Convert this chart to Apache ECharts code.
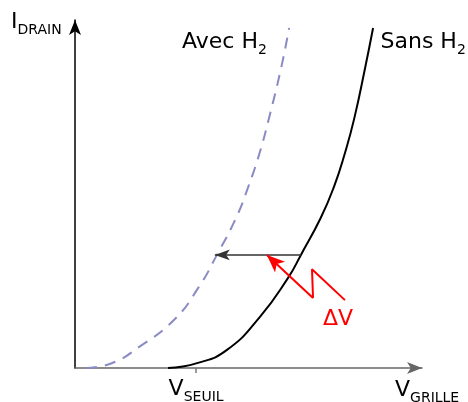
<!DOCTYPE html>
<html><head><meta charset="utf-8">
<script src="https://cdn.jsdelivr.net/npm/echarts@6/dist/echarts.min.js"></script>
<style>html,body{margin:0;padding:0;background:#fff}#c{width:468px;height:402px}</style>
</head><body><div id="c"></div>
<script>
// Transfer curves (arbitrary units)
const sansH2X = [2.68, 3.52, 4.38, 5.33, 6.14, 6.51, 7.08, 7.46, 7.78, 8.05, 8.36, 8.59];
const sansH2Y = [0, 0.14, 0.52, 1.47, 2.59, 3.25, 4.31, 5.20, 6.18, 7.18, 8.62, 9.77];
const avecH2X = [0.32, 1.04, 1.84, 2.85, 3.57, 4.09, 4.64, 4.99, 5.32, 5.59, 5.94, 6.17];
const avecH2Y = [0, 0.13, 0.60, 1.38, 2.33, 3.25, 4.31, 5.20, 6.18, 7.18, 8.62, 9.77];
// Threshold tick on the x axis
const seuilTick = [3.49];
// Horizontal shift arrow (from "Sans H2" curve to "Avec H2" curve)
const shiftLevel = 3.25;
const shiftFrom = 6.51;
const shiftTo = 4.03;
// Red ΔV zigzag pointer
const deltaZigX = [7.78, 6.83, 6.86];
const deltaZigY = [1.95, 2.84, 2.01];
const deltaTipX = 5.53;
const deltaTipY = 3.25;

const zip = (xs, ys) => xs.map((x, i) => [x, ys[i]]);
const FONT = 'DejaVu Sans';
const rich = {
  a: { fontSize: 22, lineHeight: 26, verticalAlign: 'top', fontFamily: FONT, color: '#000', fill: '#000' },
  b: { fontSize: 14, lineHeight: 14, verticalAlign: 'bottom', fontFamily: FONT, color: '#000', fill: '#000' },
  c: { fontSize: 14, lineHeight: 10, verticalAlign: 'bottom', fontFamily: FONT, color: '#000', fill: '#000' },
  r: { fontSize: 22, lineHeight: 26, verticalAlign: 'top', fontFamily: FONT, color: '#ff0000', fill: '#ff0000' }
};
const txt = (x, y, text) => ({
  type: 'text', x: x, y: y, silent: true,
  style: { text: text, rich: rich, align: 'left', verticalAlign: 'top' }
});

const chart = echarts.init(document.getElementById('c'), null, { renderer: 'canvas' });
const zig = zip(deltaZigX, deltaZigY);
chart.setOption({
  animation: false,
  backgroundColor: '#fff',
  grid: { left: 75, right: 46, top: 20, bottom: 34, containLabel: false, outerBoundsMode: 'none' },
  xAxis: {
    type: 'value', min: 0, max: 10,
    splitLine: { show: false },
    axisLine: { show: true, symbol: ['none', 'arrow'], symbolSize: [9, 15],
      lineStyle: { color: '#666', width: 1.5 } },
    axisTick: { show: true, customValues: seuilTick, length: 5, lineStyle: { color: '#777', width: 1.5 } },
    axisLabel: { show: true, customValues: seuilTick, margin: 10, rich: rich,
      formatter: () => '{a|V}{c|SEUIL}' }
  },
  yAxis: {
    type: 'value', min: 0, max: 10,
    splitLine: { show: false },
    axisLine: { show: true, symbol: ['none', 'arrow'], symbolSize: [9, 15],
      lineStyle: { color: '#000', width: 1.5 } },
    axisTick: { show: false },
    axisLabel: { show: false }
  },
  series: [
    {
      name: 'Avec H2', type: 'line', data: zip(avecH2X, avecH2Y),
      smooth: 0.5, smoothConstraint: false, showSymbol: false, silent: true,
      lineStyle: { color: '#8a8ac4', width: 2, type: [11, 8] }
    },
    {
      name: 'Sans H2', type: 'line', data: zip(sansH2X, sansH2Y),
      smooth: 0.5, smoothConstraint: false, showSymbol: false, silent: true,
      lineStyle: { color: '#000', width: 2 },
      markLine: {
        silent: true, symbol: ['none', 'arrow'], symbolSize: [8, 15],
        label: { show: false },
        lineStyle: { color: '#333', width: 1.5, type: 'solid' },
        data: [[{ coord: [shiftFrom, shiftLevel] }, { coord: [shiftTo, shiftLevel] }]]
      }
    },
    {
      name: 'ΔV', type: 'line', data: zig, showSymbol: false, silent: true,
      lineStyle: { color: '#ff0000', width: 2 },
      markLine: {
        silent: true, symbol: ['none', 'arrow'], symbolSize: [11, 18],
        label: { show: false },
        lineStyle: { color: '#ff0000', width: 2, type: 'solid' },
        data: [[{ coord: zig[zig.length - 1] }, { coord: [deltaTipX, deltaTipY] }]]
      }
    }
  ],
  graphic: [
    txt(11, 11, '{a|I}{b|DRAIN}'),
    txt(182, 31.5, '{a|Avec H}{b|2}'),
    txt(380.5, 31.5, '{a|Sans H}{b|2}'),
    txt(323, 308, '{r|ΔV}'),
    txt(395, 379.5, '{a|V}{c|GRILLE}')
  ]
});
</script>
</body></html>
